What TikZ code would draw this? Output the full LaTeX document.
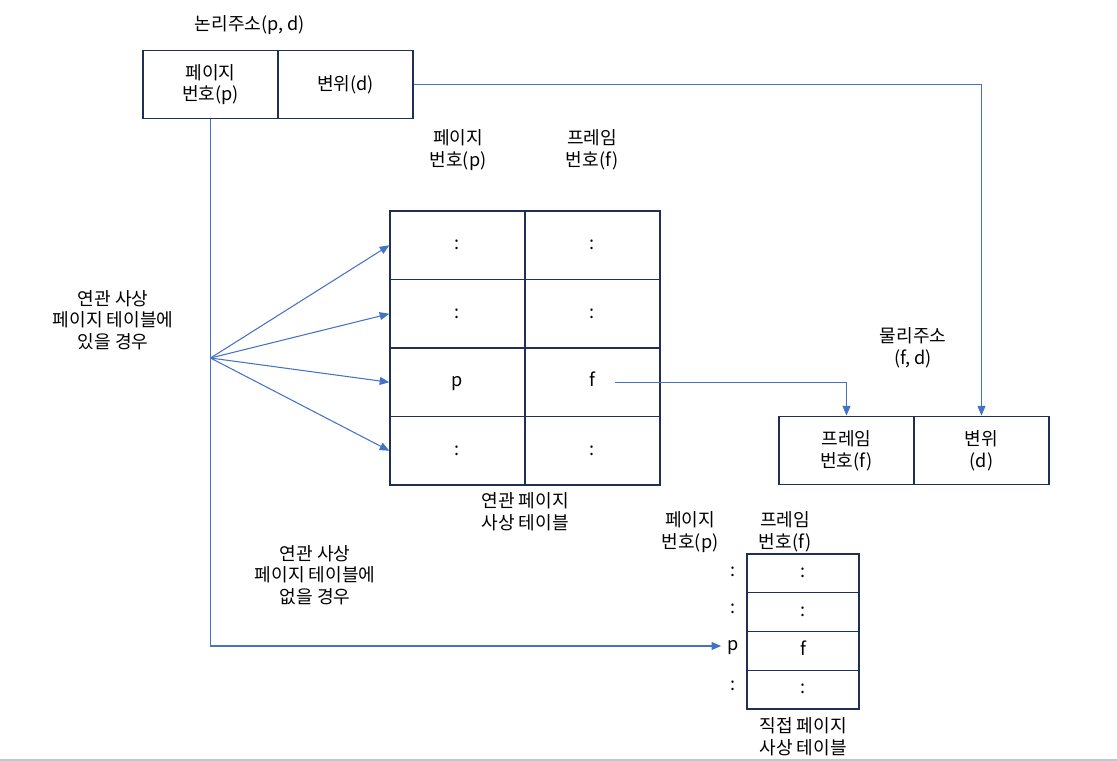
\documentclass[tikz,border=0pt]{standalone}
\usepackage{fontspec}
\setmainfont{Noto Sans CJK KR}
\usetikzlibrary{arrows.meta}
\definecolor{boxline}{HTML}{1F2F55}
\definecolor{linkblue}{HTML}{4472C4}
\tikzset{
  cell/.style={draw=boxline, line width=0.75pt, minimum width=2.7cm, minimum height=1.37cm, inner sep=0pt, align=center},
  smallcell/.style={draw=boxline, line width=0.75pt, minimum width=2.24cm, minimum height=0.775cm, inner sep=0pt},
  txt/.style={align=center},
  link/.style={draw=linkblue, line width=0.6pt, -{Triangle[length=5.5pt,width=4.5pt]}}
}
\begin{document}
\begin{tikzpicture}[x=0.02cm, y=-0.02cm, font=\fontsize{10.3}{12.3}\selectfont]
  \useasboundingbox (0,0) rectangle (1117,761);
  \node[txt] (latitle) at (250,25) {논리주소(p, d)};
  \node[cell] (lap) at (210.5,84.5) {페이지\\번호(p)};
  \node[cell] (lad) at (345.5,84.5) {변위(d)};

  \node[txt] (ath1) at (458,150) {페이지\\번호(p)};
  \node[txt] (ath2) at (592,150) {프레임\\번호(f)};
  \foreach \r/\y/\pp/\ff in {1/245.25/:/:, 2/313.75/:/:, 3/382.25/p/f, 4/450.75/:/:} {
    \node[cell] (atp\r) at (457.5,\y) {\strut\pp};
    \node[cell] (atf\r) at (592.5,\y) {\strut\ff};
  }
  \node[txt] (attitle) at (525,512) {연관 페이지\\사상 테이블};

  \node[txt] (hit) at (113,320) {연관 사상\\페이지 테이블에\\있을 경우};
  \node[txt] (miss) at (315,575) {연관 사상\\페이지 테이블에\\없을 경우};

  \node[txt] (patitle) at (913,348) {물리주소\\(f, d)};
  \node[cell] (paf) at (846.5,450.5) {프레임\\번호(f)};
  \node[cell] (pad) at (981.5,450.5) {변위\\(d)};

  \node[txt] (dth1) at (690,532) {페이지\\번호(p)};
  \node[txt] (dth2) at (785,532) {프레임\\번호(f)};
  \foreach \r/\y/\ly/\pp/\ff in {1/573.4/572/:/:, 2/612.1/609/:/:, 3/650.9/646/p/f, 4/689.6/686/:/:} {
    \node[txt] (dl\r) at (733,\ly) {\strut\pp};
    \node[smallcell] (df\r) at (803,\y) {\strut\ff};
  }
  \node[txt] (dttitle) at (803,737) {직접 페이지\\사상 테이블};

  \coordinate (fan) at (210.5,358);
  \foreach \r in {1,...,4}
    \draw[link] (fan) -- (atp\r.west);
  \draw[link] (lap.south) |- (dl3.west);
  \draw[link] ([xshift=0.46cm]atf3.center) -| (paf.north);
  \draw[link] (lad.east) -| (pad.north);

  \draw[gray!45, line width=1.2pt] (0,760) -- (1117,760);
\end{tikzpicture}
\end{document}
